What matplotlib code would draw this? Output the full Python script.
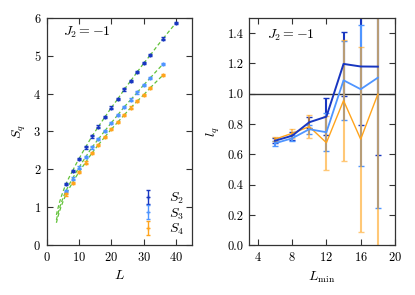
import numpy as np
import matplotlib
matplotlib.use("Agg")
import matplotlib.pyplot as plt

# ---------------------------------------------------------
# data
# ---------------------------------------------------------

L_s2 = [6, 8, 10, 12, 14, 16, 18, 20, 22, 24, 26, 28, 30, 32, 36, 40]
S2 = [1.62, 1.96, 2.28, 2.58, 2.87, 3.13, 3.38, 3.63, 3.86, 4.11, 4.34,
      4.57, 4.80, 5.01, 5.45, 5.865]

L_s34 = [6, 8, 10, 12, 14, 16, 18, 20, 22, 24, 26, 28, 30, 32, 36]
S3 = [1.44, 1.76, 2.05, 2.32, 2.58, 2.80, 3.02, 3.23, 3.44, 3.65, 3.84,
      4.03, 4.23, 4.41, 4.78]
S4 = [1.34, 1.65, 1.93, 2.18, 2.43, 2.65, 2.86, 3.06, 3.25, 3.44, 3.63,
      3.80, 3.97, 4.15, 4.49]
S_err = 0.03

L_min = [6, 8, 10, 12, 14, 16, 18]
l2 = [0.69, 0.723, 0.812, 0.849, 1.197, 1.18, 1.179]
l2_err = [0.015, 0.025, 0.035, 0.12, 0.21, 0.386, 0.584]
l3 = [0.673, 0.706, 0.766, 0.746, 1.089, 1.03, 1.106]
l3_err_lo = [0.015, 0.02, 0.03, 0.126, 0.26, 0.507, 0.858]
l3_err_hi = [0.015, 0.02, 0.03, 0.126, 0.26, 0.425, 0.858]
l4 = [0.70, 0.739, 0.783, 0.677, 0.955, 0.70, 0.997]
l4_err = [0.015, 0.03, 0.075, 0.177, 0.40, 0.61, 1.6]

c2 = "#1836c0"
c3 = "#4f95ff"
c4 = "#ffa41c"
c_fit = "#62c23a"

# ---------------------------------------------------------
# style
# ---------------------------------------------------------

plt.rcParams["font.family"] = "serif"
plt.rcParams["font.serif"] = ["cmr10", "DejaVu Serif"]
plt.rcParams["mathtext.fontset"] = "cm"
plt.rcParams["axes.formatter.use_mathtext"] = True
plt.rcParams["font.size"] = 9
plt.rcParams["axes.edgecolor"] = "#333333"
plt.rcParams["axes.linewidth"] = 0.9

fig = plt.figure(figsize=(4.15, 2.95), dpi=100)
ax1 = fig.add_axes([0.1125, 0.1685, 0.351, 0.7715])
ax2 = fig.add_axes([0.6007, 0.1685, 0.351, 0.7705])

for ax in (ax1, ax2):
    ax.tick_params(direction="in", top=True, right=True, labelsize=9,
                   length=4, width=0.8, color="#333333", pad=4)

# ---------------------------------------------------------
# left panel: S_q vs L
# ---------------------------------------------------------

def fit_segments(ax, L, S):
    # two-point log fits between neighbouring sizes
    for i in range(len(L) - 1):
        a = (S[i + 1] - S[i]) / np.log(L[i + 1] / L[i])
        b = S[i] - a * np.log(L[i])
        start = 3 if i == 0 else L[i]
        xs = np.linspace(start, L[i + 1], 20)
        ax.plot(xs, a * np.log(xs) + b, ls=(0, (3, 2)), lw=0.9,
                color=c_fit, zorder=1)

fit_segments(ax1, L_s2, S2)
fit_segments(ax1, L_s34, S3)
fit_segments(ax1, L_s34, S4)

h2 = ax1.errorbar(L_s2, S2, yerr=S_err, fmt="+", ms=3.5, mew=1,
                  color=c2, capsize=1.5, elinewidth=1, capthick=0.8,
                  zorder=3)
h3 = ax1.errorbar(L_s34, S3, yerr=S_err, fmt="+", ms=3.5, mew=1,
                  color=c3, capsize=1.5, elinewidth=1, capthick=0.8,
                  zorder=3)
h4 = ax1.errorbar(L_s34, S4, yerr=S_err, fmt="+", ms=3.5, mew=1,
                  color=c4, capsize=1.5, elinewidth=1, capthick=0.8,
                  zorder=3)

ax1.set_xlim(0, 45)
ax1.set_ylim(0, 6)
ax1.set_xticks([0, 10, 20, 30, 40])
ax1.set_yticks([0, 1, 2, 3, 4, 5, 6])
ax1.set_xlabel("$L$", fontsize=10)
ax1.set_ylabel("$S_q$", fontsize=10)
ax1.text(0.11, 0.935, "$J_2 = -1$", transform=ax1.transAxes,
         fontsize=10, va="center")

ax1.legend([h2, h3, h4], ["$S_2$", "$S_3$", "$S_4$"],
           loc="lower right", frameon=False, fontsize=10,
           handlelength=1.0, handletextpad=1.0, labelspacing=0.0,
           borderaxespad=0.3, borderpad=0.3)

# ---------------------------------------------------------
# right panel: l_q vs L_min
# ---------------------------------------------------------

ax2.axhline(1.0, color="#333333", lw=1, zorder=1)

ax2.errorbar(L_min, l2, yerr=l2_err, fmt="none", ecolor=c2,
             elinewidth=1.5, capsize=2, capthick=1, zorder=2)
ax2.errorbar(L_min, l3, yerr=[l3_err_lo, l3_err_hi], fmt="none",
             ecolor=c3, elinewidth=1.5, capsize=2, capthick=1, zorder=2.1)
ax2.errorbar(L_min, l4, yerr=l4_err, fmt="none", ecolor=c4, alpha=0.6,
             elinewidth=1.5, capsize=2, capthick=1, zorder=2.2)

ax2.plot(L_min, l4, color=c4, lw=1.0, zorder=3)
ax2.plot(L_min, l3, color=c3, lw=1.3, zorder=3.1)
ax2.plot(L_min, l2, color=c2, lw=1.4, zorder=3.2)

ax2.set_xlim(3, 20)
ax2.set_ylim(0, 1.5)
ax2.set_xticks([4, 8, 12, 16, 20])
ax2.set_yticks([0.0, 0.2, 0.4, 0.6, 0.8, 1.0, 1.2, 1.4])
ax2.yaxis.set_major_formatter(matplotlib.ticker.FormatStrFormatter("%.1f"))
ax2.set_xlabel(r"$L_{\rm min}$", fontsize=10)
ax2.set_ylabel("$l_q$", fontsize=10)
ax2.text(0.125, 0.925, "$J_2 = -1$", transform=ax2.transAxes,
         fontsize=10, va="center")

fig.savefig("out.png", dpi=100)
